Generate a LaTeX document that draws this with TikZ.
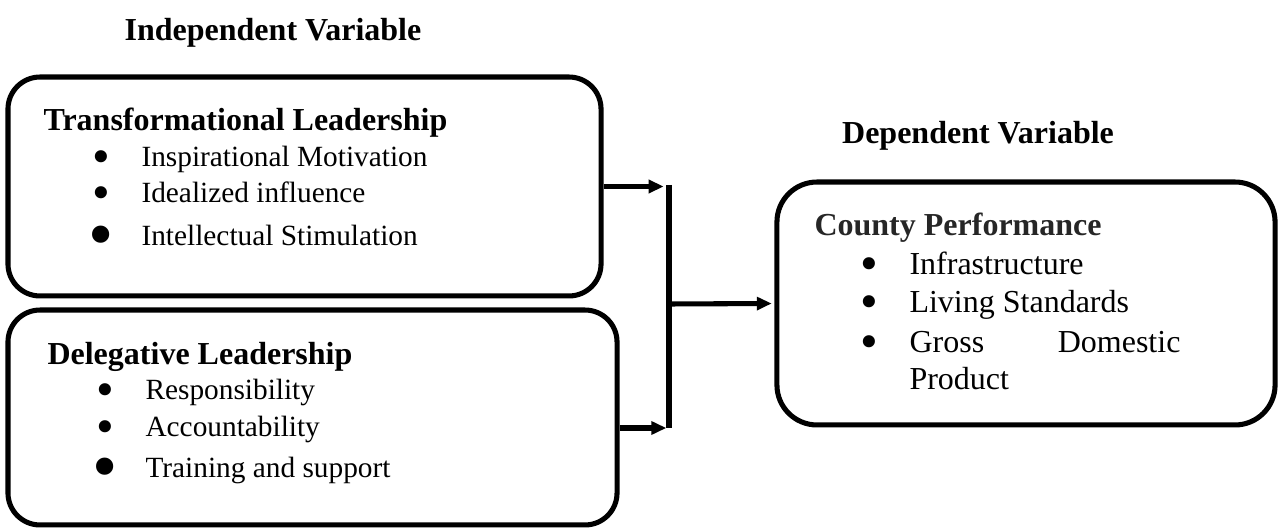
\documentclass[tikz,border=0pt]{standalone}
\usepackage{fontspec}
\setmainfont{Liberation Serif}
\usepackage{tikz}
\usetikzlibrary{arrows.meta, positioning, calc}

\newcommand{\bul}[2][19]{\llap{\makebox[0pt][c]{\raisebox{#2}[0pt][0pt]{\fontsize{#1}{#1}\selectfont\textbullet}}\hspace{15pt}}}

\begin{document}
\begin{tikzpicture}[x=0.375pt, y=-0.375pt, >={Triangle[length=5.6pt, width=4.8pt]}, line width=1.9pt,
    box/.style={draw, rounded corners=12pt, inner sep=0pt},
    head/.style={font=\fontsize{12}{14}\selectfont\bfseries, anchor=base west, inner sep=0pt},
    txt/.style={font=\fontsize{11}{13}\selectfont, anchor=base west, inner sep=0pt},
    bigtxt/.style={font=\fontsize{12}{14}\selectfont, anchor=base west, inner sep=0pt}]
    \useasboundingbox (0,0) rectangle (1279,529);
    \node[head, anchor=base] (iv) at (273,41) {Independent Variable};
    \node[head, anchor=base] (dv) at (978,144) {Dependent Variable};

    \node[box, minimum width=222.4pt, minimum height=82.1pt] (tl) at (304.5,186.5) {};
    \node[head] (tl-t) at (41,131) {Transformational Leadership};
    \node[txt] (tl-a) at (139,167) {\bul{-2.4pt}Inspirational Motivation};
    \node[txt] (tl-b) at (139,203) {\bul{-2.4pt}Idealized influence};
    \node[txt] (tl-c) at (139,246) {\bul[27]{-4.6pt}Intellectual Stimulation};

    \node[box, minimum width=228.4pt, minimum height=80.6pt] (dl) at (312.5,417.5) {};
    \node[head] (dl-t) at (45,365) {Delegative Leadership};
    \node[txt] (dl-a) at (143,400) {\bul{-2.4pt}Responsibility};
    \node[txt] (dl-b) at (143,437) {\bul{-2.4pt}Accountability};
    \node[txt] (dl-c) at (143,478) {\bul[27]{-4.6pt}Training and support};

    \node[box, rounded corners=15pt, minimum width=186.8pt, minimum height=91.1pt] (cp) at (1026,303.5) {};
    \node[head, text=black!85] (cp-t) at (812,236) {County Performance};
    \node[bigtxt] (cp-a) at (907,275) {\bul{-2.2pt}Infrastructure};
    \node[bigtxt] (cp-b) at (907,313) {\bul{-2.2pt}Living Standards};
    \node[bigtxt] (cp-c) at (907,353) {\bul{-2.2pt}\makebox[101.6pt][l]{Gross\hfill Domestic}};
    \node[bigtxt] (cp-d) at (907,390) {Product};

    \coordinate (jt) at (669,185);
    \coordinate (jm) at (669,304);
    \coordinate (jb) at (669,428);
    \draw (jt) -- (jb);
    \draw[->, shorten >=2pt] (tl.east) -- (tl.east -| jt);
    \draw[->, shorten >=1pt] (dl.east |- jb) -- (jb);
    \draw[->, shorten >=1pt] (jm) -- (cp.west);
\end{tikzpicture}
\end{document}
